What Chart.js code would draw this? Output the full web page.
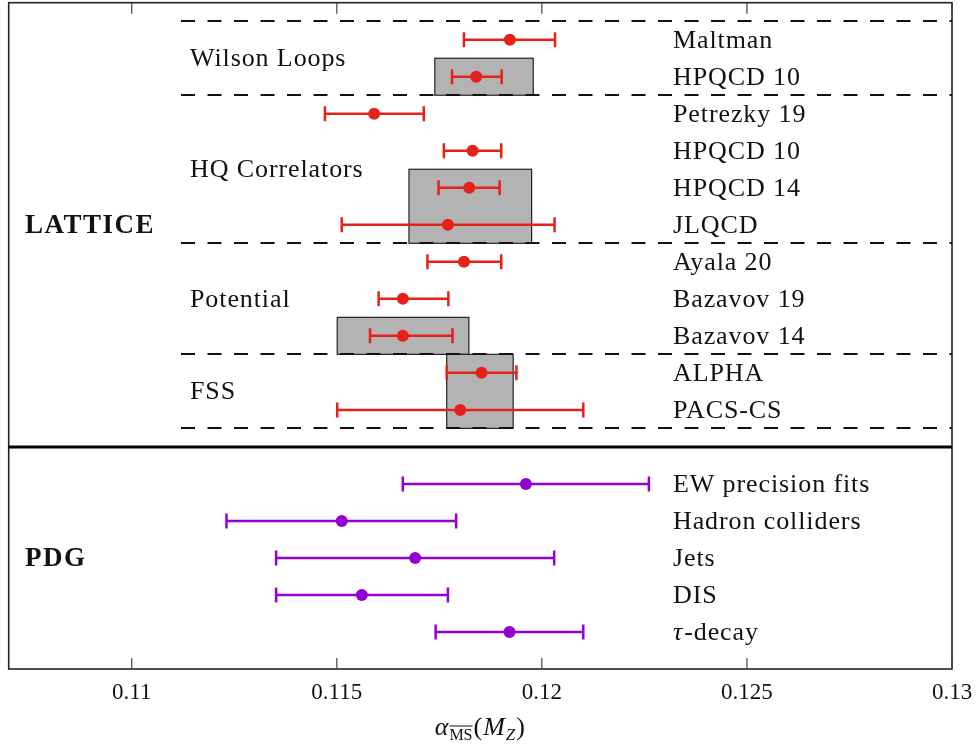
<!DOCTYPE html>
<html>
<head>
<meta charset="utf-8">
<script src="https://cdn.jsdelivr.net/npm/chart.js@4.4.1/dist/chart.umd.min.js"></script>
<style>
  html, body { margin: 0; padding: 0; background: #fff; }
  #wrap { width: 979px; height: 747px; position: relative; }
</style>
</head>
<body>
<div id="wrap"><canvas id="grafico"></canvas></div>
<script>
// alpha_s(MZ): valor central e extremos da barra de erro
const latticeNomes = ['Maltman', 'HPQCD 10', 'Petrezky 19', 'HPQCD 10', 'HPQCD 14', 'JLQCD', 'Ayala 20', 'Bazavov 19', 'Bazavov 14', 'ALPHA', 'PACS-CS'];
const latticeValor = [0.11922, 0.11840, 0.11591, 0.11831, 0.11823, 0.11771, 0.11810, 0.11661, 0.11661, 0.11853, 0.11801];
const latticeMin   = [0.11810, 0.11781, 0.11471, 0.11761, 0.11748, 0.11512, 0.11721, 0.11602, 0.11581, 0.11768, 0.11501];
const latticeMax   = [0.12032, 0.11902, 0.11712, 0.11901, 0.11897, 0.12031, 0.11901, 0.11772, 0.11782, 0.11938, 0.12101];

const pdgNomes = ['EW precision fits', 'Hadron colliders', 'Jets', 'DIS', 'τ-decay'];
const pdgValor = [0.11961, 0.11512, 0.11691, 0.11561, 0.11921];
const pdgMin   = [0.11661, 0.11231, 0.11352, 0.11352, 0.11741];
const pdgMax   = [0.12261, 0.11791, 0.12030, 0.11771, 0.12101];

// grupos da rede (índices das linhas) e médias de cada grupo (caixas cinza)
const grupos      = ['Wilson Loops', 'HQ Correlators', 'Potential', 'FSS'];
const grupoInicio = [0, 2, 6, 9];
const grupoFim    = [1, 5, 8, 10];
const caixaMin    = [0.11739, 0.11676, 0.11501, 0.11768];
const caixaMax    = [0.11979, 0.11975, 0.11822, 0.11930];
const caixaTopo   = [0.5, 3.5, 7.5, 8.5];
const caixaBase   = [1.5, 5.5, 8.5, 10.5];

const ticksX = [0.11, 0.115, 0.12, 0.125, 0.13];

const VERMELHO = '#e6211a';
const ROXO = '#9400d3';
const FONTE = "'Liberation Serif', 'DejaVu Serif', serif";
const LINHA_PDG = latticeNomes.length + 1; // primeira linha do PDG

const linhasLattice = latticeNomes.map((_, i) => i);
const linhasPdg = pdgNomes.map((_, i) => LINHA_PDG + i);

function barrasErro(mins, maxs, linhas, cor) {
    return mins.map((lo, i) => ({
        type: 'scatter',
        showLine: true,
        data: [{ x: lo, y: linhas[i] }, { x: maxs[i], y: linhas[i] }],
        borderColor: cor,
        borderWidth: 2.5,
        pointStyle: 'line',
        rotation: 90,
        pointRadius: 7.5,
        pointBorderWidth: 2.5,
        pointBorderColor: cor,
        pointBackgroundColor: cor
    }));
}

function pontos(valores, linhas, cor) {
    return {
        type: 'scatter',
        data: valores.map((v, i) => ({ x: v, y: linhas[i] })),
        pointRadius: 6,
        pointBackgroundColor: cor,
        pointBorderWidth: 0
    };
}

const fundo = {
    id: 'fundo',
    beforeDatasetsDraw(chart) {
        const { ctx, chartArea: a, scales: { x, y } } = chart;
        ctx.save();
        // caixas com a média de cada grupo
        caixaMin.forEach((lo, i) => {
            const x0 = x.getPixelForValue(lo), x1 = x.getPixelForValue(caixaMax[i]);
            const y0 = y.getPixelForValue(caixaTopo[i]), y1 = y.getPixelForValue(caixaBase[i]);
            ctx.fillStyle = '#b3b3b3';
            ctx.fillRect(x0, y0, x1 - x0, y1 - y0);
            ctx.strokeStyle = '#222';
            ctx.lineWidth = 1.2;
            ctx.strokeRect(x0, y0, x1 - x0, y1 - y0);
        });
        // separadores tracejados entre os grupos
        const cortes = grupoInicio.map(g => g - 0.5);
        cortes.push(grupoFim[grupoFim.length - 1] + 0.5);
        ctx.strokeStyle = '#111';
        ctx.lineWidth = 2;
        ctx.setLineDash([14, 12.5]);
        cortes.forEach(c => {
            const py = Math.round(y.getPixelForValue(c));
            ctx.beginPath();
            ctx.moveTo(181, py);
            ctx.lineTo(a.right, py);
            ctx.stroke();
        });
        ctx.restore();
    },
    afterDatasetsDraw(chart) {
        const { ctx, chartArea: a, scales: { x, y } } = chart;
        ctx.save();
        // moldura
        ctx.strokeStyle = '#222';
        ctx.lineWidth = 1.6;
        ctx.strokeRect(a.left, a.top, a.right - a.left, a.bottom - a.top);
        // divisão LATTICE / PDG
        const yDiv = y.getPixelForValue(LINHA_PDG - 1);
        ctx.lineWidth = 3;
        ctx.strokeStyle = '#000';
        ctx.beginPath();
        ctx.moveTo(a.left, yDiv);
        ctx.lineTo(a.right, yDiv);
        ctx.stroke();
        // marcas do eixo, para dentro, em cima e embaixo
        ctx.strokeStyle = '#444';
        ctx.lineWidth = 1.2;
        ticksX.forEach(t => {
            const px = x.getPixelForValue(t);
            ctx.beginPath();
            ctx.moveTo(px, a.top); ctx.lineTo(px, a.top + 11);
            ctx.moveTo(px, a.bottom); ctx.lineTo(px, a.bottom - 11);
            ctx.stroke();
        });

        ctx.fillStyle = '#111';
        ctx.textBaseline = 'alphabetic';
        ctx.textAlign = 'left';
        ctx.font = '26px ' + FONTE;
        ctx.letterSpacing = '0.9px';
        const base = r => y.getPixelForValue(r) + 8;

        // nomes à direita
        latticeNomes.forEach((n, i) => ctx.fillText(n, 673, base(linhasLattice[i])));
        pdgNomes.forEach((n, i) => {
            if (n.startsWith('τ')) {
                ctx.font = 'italic 26px ' + FONTE;
                ctx.fillText('τ', 673, base(linhasPdg[i]));
                const w = ctx.measureText('τ').width;
                ctx.font = '26px ' + FONTE;
                ctx.fillText(n.slice(1), 673 + w + 1, base(linhasPdg[i]));
            } else {
                ctx.fillText(n, 673, base(linhasPdg[i]));
            }
        });

        // nomes dos grupos
        grupos.forEach((g, i) => ctx.fillText(g, 190, base((grupoInicio[i] + grupoFim[i]) / 2)));

        // rótulos das seções
        ctx.font = 'bold 27px ' + FONTE;
        ctx.letterSpacing = '1.5px';
        ctx.fillText('LATTICE', 25, base((linhasLattice[0] + linhasLattice[linhasLattice.length - 1]) / 2));
        ctx.fillText('PDG', 25, base((linhasPdg[0] + linhasPdg[linhasPdg.length - 1]) / 2));
        ctx.letterSpacing = '0px';

        // título do eixo: alpha_MSbar(M_Z)
        const partes = [
            { t: 'α', f: 'italic 26px ', dy: 0 },
            { t: 'MS', f: '16px ', dy: 5, barra: true },
            { t: '(', f: '26px ', dy: 0 },
            { t: 'M', f: 'italic 26px ', dy: 0 },
            { t: 'Z', f: 'italic 17px ', dy: 5 },
            { t: ')', f: '26px ', dy: 0 }
        ];
        let total = 0;
        partes.forEach(p => { ctx.font = p.f + FONTE; p.w = ctx.measureText(p.t).width; total += p.w + 1; });
        let px = (a.left + a.right) / 2 - total / 2;
        const by = 735;
        partes.forEach(p => {
            ctx.font = p.f + FONTE;
            ctx.fillText(p.t, px, by + p.dy);
            if (p.barra) {
                ctx.lineWidth = 1;
                ctx.strokeStyle = '#111';
                ctx.beginPath();
                ctx.moveTo(px, by + p.dy - 14);
                ctx.lineTo(px + p.w, by + p.dy - 14);
                ctx.stroke();
            }
            px += p.w + 1;
        });
        ctx.restore();
    }
};

new Chart(document.getElementById('grafico'), {
    type: 'scatter',
    data: {
        datasets: [
            ...barrasErro(latticeMin, latticeMax, linhasLattice, VERMELHO),
            ...barrasErro(pdgMin, pdgMax, linhasPdg, ROXO),
            pontos(latticeValor, linhasLattice, VERMELHO),
            pontos(pdgValor, linhasPdg, ROXO)
        ]
    },
    options: {
        responsive: true,
        maintainAspectRatio: false,
        animation: false,
        layout: { autoPadding: false, padding: { left: 8.7, top: 2.7, right: 27, bottom: 0 } },
        plugins: { legend: { display: false }, tooltip: { enabled: false } },
        scales: {
            x: {
                type: 'linear',
                min: 0.107,
                max: 0.13,
                afterBuildTicks: s => { s.ticks = ticksX.map(v => ({ value: v })); },
                afterFit: s => { s.height = 78; s.paddingRight = 0; s.paddingLeft = 0; },
                grid: { display: false, drawTicks: false },
                border: { display: false },
                ticks: {
                    padding: 10,
                    maxRotation: 0,
                    autoSkip: false,
                    color: '#111',
                    font: { family: FONTE, size: 23 },
                    callback: v => String(+v.toFixed(3))
                }
            },
            y: {
                type: 'linear',
                display: false,
                reverse: true,
                min: -1,
                max: LINHA_PDG + pdgNomes.length
            }
        }
    },
    plugins: [fundo]
});
</script>
</body>
</html>
